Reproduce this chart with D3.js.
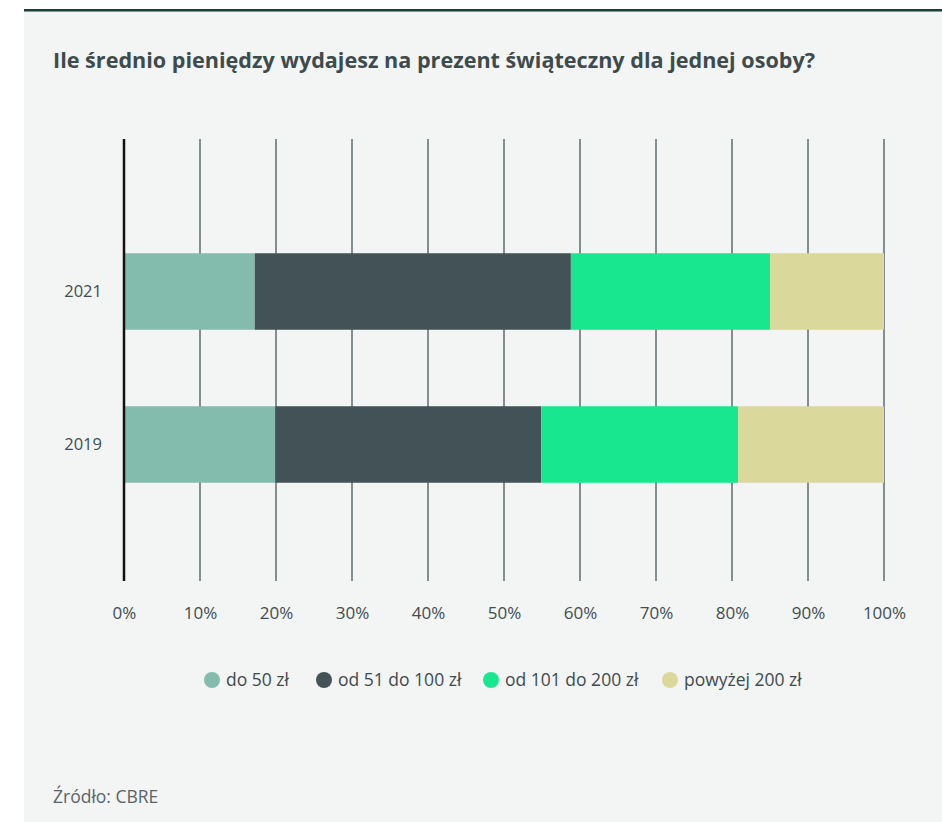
<!DOCTYPE html>
<html>
<head>
<meta charset="utf-8">
<script src="https://cdn.jsdelivr.net/npm/d3@7"></script>
<style>
  body { margin: 0; background: #fff; }
  svg { display: block; }
</style>
</head>
<body>
<div id="container"></div>
<script>
// data
const years = ['2021', '2019'];
const categories = ['do 50 zł', 'od 51 do 100 zł', 'od 101 do 200 zł', 'powyżej 200 zł'];
const values2021 = [17.2, 41.6, 26.2, 15.0];
const values2019 = [19.9, 35.0, 25.9, 19.2];
const ticks = [0, 10, 20, 30, 40, 50, 60, 70, 80, 90, 100];

const colors = ['#83bbad', '#435256', '#19e78f', '#dbd89c'];

const width = 942;
const height = 822;
const font = '"Open Sans", sans-serif';

let svg = d3.select('#container')
  .append('svg')
  .attr('width', width)
  .attr('height', height);

// panel background + top rule
svg.append('rect')
  .attr('x', 24).attr('y', 10)
  .attr('width', width - 24).attr('height', height - 10)
  .attr('fill', '#f3f4f4');

svg.append('rect')
  .attr('x', 24).attr('y', 9)
  .attr('width', width - 24).attr('height', 2.5)
  .attr('fill', '#1d3f3a');

svg.append('text')
  .attr('x', 53).attr('y', 68)
  .attr('font-family', font)
  .attr('font-weight', 'bold')
  .attr('font-size', 20.5)
  .attr('fill', '#3e4b4d')
  .attr('textLength', 762)
  .attr('lengthAdjust', 'spacingAndGlyphs')
  .text('Ile średnio pieniędzy wydajesz na prezent świąteczny dla jednej osoby?');

// scales
let x = d3.scaleLinear().domain([0, 100]).range([124, 884]);
let y = d3.scaleBand().domain(years).range([215, 521]).paddingInner(0.5).paddingOuter(0.25);

let gridTop = 139, gridBottom = 581;

// gridlines
svg.append('g')
  .selectAll('line')
  .data(ticks.slice(1))
  .enter()
  .append('line')
  .attr('x1', d => x(d)).attr('x2', d => x(d))
  .attr('y1', gridTop).attr('y2', gridBottom)
  .attr('stroke', '#5f6d6f')
  .attr('stroke-width', 1.5);

// stacked bars
let rows = [
  { year: '2021', values: values2021 },
  { year: '2019', values: values2019 }
];

function segments(row) {
  let acc = 0;
  return row.values.map(function(v, i) {
    let s = { year: row.year, x0: acc, x1: acc + v, i: i };
    acc += v;
    return s;
  });
}

let bars = svg.append('g');
rows.forEach(function(row) {
  bars.selectAll('.seg' + row.year)
    .data(segments(row))
    .enter()
    .append('rect')
    .attr('x', d => x(d.x0))
    .attr('width', d => x(d.x1) - x(d.x0))
    .attr('y', d => y(d.year))
    .attr('height', y.bandwidth())
    .attr('fill', d => colors[d.i]);
});

// zero axis
svg.append('line')
  .attr('x1', x(0)).attr('x2', x(0))
  .attr('y1', gridTop).attr('y2', gridBottom)
  .attr('stroke', '#111')
  .attr('stroke-width', 2.5);

// x tick labels
let xAxis = d3.axisBottom(x)
  .tickValues(ticks)
  .tickFormat(d => d + '%')
  .tickSize(0)
  .tickPadding(0);

let xg = svg.append('g')
  .attr('transform', 'translate(0,' + 607 + ')')
  .call(xAxis);
xg.select('.domain').remove();
xg.selectAll('text')
  .attr('font-family', font)
  .attr('font-size', 17)
  .attr('fill', '#3f4e50');

// y labels
let yAxis = d3.axisLeft(y).tickSize(0).tickPadding(0);
let yg = svg.append('g')
  .attr('transform', 'translate(102,0)')
  .call(yAxis);
yg.select('.domain').remove();
yg.selectAll('text')
  .attr('font-family', font)
  .attr('font-size', 16.5)
  .attr('fill', '#3f4e50');

// legend
let legendX = [212, 324, 491, 670];
let legend = svg.append('g')
  .selectAll('g')
  .data(categories)
  .enter()
  .append('g')
  .attr('transform', (d, i) => 'translate(' + legendX[i] + ',680)');

legend.append('circle')
  .attr('r', 8)
  .attr('fill', (d, i) => colors[i]);

legend.append('text')
  .attr('x', 14)
  .attr('dy', '0.35em')
  .attr('font-family', font)
  .attr('font-size', 17.5)
  .attr('fill', '#3e4b4d')
  .text(d => d);

// source
svg.append('text')
  .attr('x', 53).attr('y', 803)
  .attr('font-family', font)
  .attr('font-size', 17.5)
  .attr('fill', '#5a6466')
  .text('Źródło: CBRE');
</script>
</body>
</html>
